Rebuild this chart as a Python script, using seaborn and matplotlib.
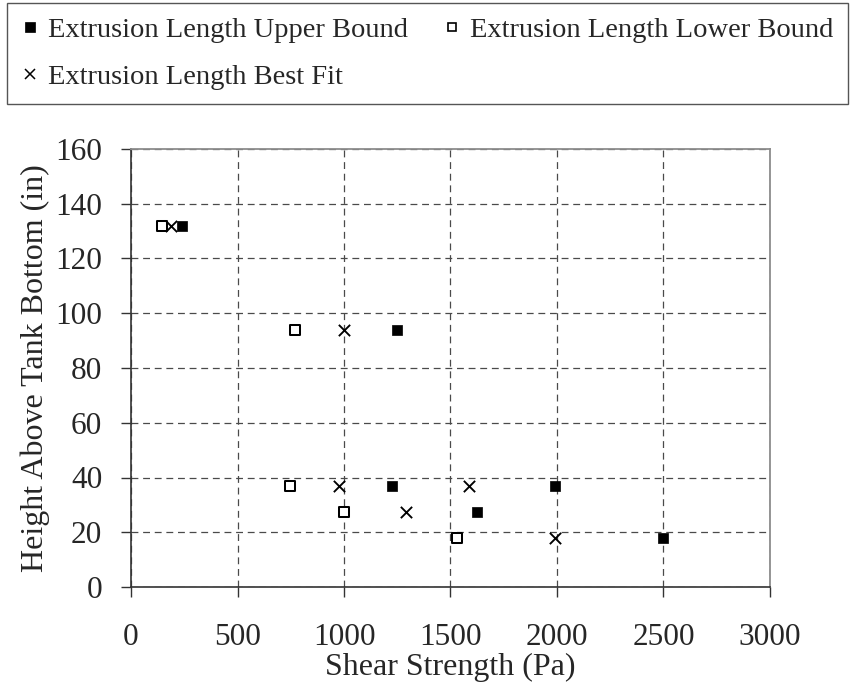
import matplotlib
matplotlib.use("Agg")
import matplotlib.pyplot as plt
from matplotlib.lines import Line2D
import seaborn as sns

# Measured extrusion lengths: shear strength (Pa) vs height above tank bottom (in)
upper_x = [240, 1250, 1225, 1990, 1625, 2500]
upper_y = [132, 94, 37, 37, 27.5, 18]

lower_x = [145, 770, 745, 1000, 1530]
lower_y = [132, 94, 37, 27.5, 18]

best_x = [190, 1000, 975, 1585, 1290, 1990]
best_y = [132, 94, 37, 37, 27.5, 18]

labels = ["Extrusion Length Upper Bound",
          "Extrusion Length Lower Bound",
          "Extrusion Length Best Fit"]
x_ticks = [0, 500, 1000, 1500, 2000, 2500, 3000]
y_ticks = [0, 20, 40, 60, 80, 100, 120, 140, 160]

sns.set_style("white")
plt.rcParams["font.family"] = ["Liberation Serif", "DejaVu Serif"]
FS_TICK = 22.5
FS_LABEL = 23
FS_LEG = 20.5

fig = plt.figure(figsize=(8.5, 6.86), dpi=100)
W, H = 850, 686
ax = fig.add_axes([131 / W, 1 - 587 / H, 639 / W, 438 / H])

sns.scatterplot(x=upper_x, y=upper_y, ax=ax, marker="s", s=62,
                color="black", edgecolor="black", linewidth=0.5, zorder=3)
sns.scatterplot(x=lower_x, y=lower_y, ax=ax, marker="s", s=44,
                color="white", edgecolor="black", linewidth=1.45, zorder=3)
sns.scatterplot(x=best_x, y=best_y, ax=ax, marker="x", s=66,
                color="black", linewidth=1.35, zorder=3)

ax.set_xlim(0, 3000)
ax.set_ylim(0, 160)
ax.set_xticks(x_ticks)
ax.set_yticks(y_ticks)
ax.set_xticklabels([str(v) for v in x_ticks], fontsize=FS_TICK)
ax.set_yticklabels([str(v) for v in y_ticks], fontsize=FS_TICK)
ax.tick_params(axis="x", direction="out", length=7.2, width=1.0,
               color="#333333", pad=18.5, bottom=True)
ax.tick_params(axis="y", direction="out", length=7.2, width=1.0,
               color="#333333", pad=13.5, left=True)

ax.grid(True, color="#4a4a4a", linestyle=(0, (5.5, 3.8)), linewidth=0.9)
ax.set_axisbelow(True)

for side in ("left", "bottom"):
    ax.spines[side].set_color("#333333")
    ax.spines[side].set_linewidth(1.2)
for side in ("top", "right"):
    ax.spines[side].set_color("#8c8c8c")
    ax.spines[side].set_linewidth(1.3)

ax.set_xlabel("Shear Strength (Pa)", fontsize=FS_LABEL)
ax.set_ylabel("Height Above Tank Bottom (in)", fontsize=FS_LABEL)
ax.xaxis.set_label_coords(0.5, -0.15)
ax.yaxis.set_label_coords(-0.127, 0.5)

# Legend laid out row-wise across the top of the figure
h_upper = Line2D([], [], ls="none", marker="s", ms=7.4, mfc="black",
                 mec="black", mew=0.5)
h_lower = Line2D([], [], ls="none", marker="s", ms=6.2, mfc="white",
                 mec="black", mew=1.2)
h_best = Line2D([], [], ls="none", marker="x", ms=7.0, color="black",
                mew=1.1)
leg = fig.legend([h_upper, h_best, h_lower],
                 [labels[0], labels[2], labels[1]],
                 ncol=2, loc="upper left",
                 bbox_to_anchor=(7 / W, 1 - 103 / H, 841 / W, 100 / H),
                 mode="expand", fontsize=FS_LEG, frameon=True, fancybox=False,
                 borderpad=0.5, handlelength=0.6, handletextpad=0.35,
                 columnspacing=0.6, labelspacing=0.72, borderaxespad=0)
frame = leg.get_frame()
frame.set_edgecolor("#555555")
frame.set_linewidth(1.0)
frame.set_facecolor("white")
frame.set_alpha(1)

fig.savefig("out.png", dpi=100, facecolor="white")
